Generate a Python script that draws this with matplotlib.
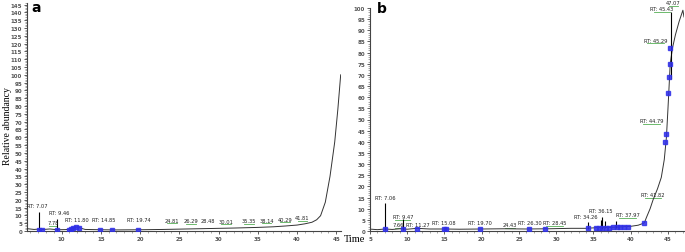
import matplotlib.pyplot as plt
from matplotlib.ticker import MultipleLocator

# ---- panel a: chromatogram trace (time, abundance) ----
trace_a_t = [5.6, 6.5, 7.0, 7.5, 8.5, 9.5, 10.5, 11.0, 11.5, 11.8, 12.2, 13.0, 15.0, 17.0,
             20.0, 23.0, 26.0, 29.0, 32.0, 35.0, 37.0, 38.5, 40.0, 41.0, 41.9, 42.5,
             43.0, 43.6, 44.2, 44.8, 45.2, 45.56]
trace_a_y = [1.5, 1.0, 1.2, 0.9, 1.3, 0.8, 0.9, 1.2, 2.0, 2.6, 2.2, 1.0, 0.8, 0.7,
             0.8, 1.0, 1.3, 1.6, 1.9, 2.3, 2.7, 3.2, 3.8, 4.6, 5.6, 7.2,
             9.8, 18.4, 35.0, 57.0, 78.0, 100.0]
peaks_a_t = [7.07, 9.46]
peaks_a_lo = [0.5, 0.5]
peaks_a_h = [12.0, 8.0]
squares_a_t = [7.07, 7.45, 9.46, 10.9, 11.2, 11.5, 11.8, 12.2, 14.85, 16.4, 19.74]
squares_a_y = [0.8, 0.8, 0.7, 0.8, 1.2, 1.8, 2.3, 2.0, 0.9, 0.8, 0.7]
labels_a = ["RT: 7.07", "7.78", "RT: 9.46", "RT: 11.80", "RT: 14.85", "RT: 19.74",
            "24.81", "26.29", "28.48", "30.01", "35.35", "38.14", "40.29", "41.81"]
labels_a_t = [6.9, 8.9, 9.75, 11.9, 15.4, 19.8, 24.1, 26.5, 28.7, 30.9, 33.9, 36.1, 38.5, 40.7]
labels_a_y = [14.7, 3.6, 10.5, 6.0, 6.0, 6.0, 5.2, 5.0, 5.0, 4.6, 5.0, 5.4, 6.0, 7.0]
green_a = ["7.78", "24.81", "26.29", "30.01", "35.35", "38.14", "40.29", "41.81"]

# ---- panel b ----
trace_b_t = [5.2, 6.0, 7.0, 8.0, 9.0, 10.0, 11.3, 13.0, 15.0, 17.0, 20.0, 23.0, 26.0,
             29.0, 32.0, 34.0, 35.5, 37.0, 38.5, 40.0, 41.0, 41.82, 42.1, 42.6, 43.0,
             43.6, 44.1, 44.5, 44.79, 45.0, 45.15, 45.3, 45.6, 46.0, 46.5, 47.0, 47.15]
trace_b_y = [0.8, 0.6, 0.9, 0.7, 1.0, 0.8, 1.2, 0.9, 0.9, 0.8, 0.9, 1.0, 0.9,
             1.0, 1.2, 1.2, 1.5, 1.6, 1.8, 2.1, 2.6, 3.6, 6.0, 10.0, 14.0,
             19.0, 24.0, 32.0, 42.0, 55.0, 65.0, 75.0, 82.0, 88.0, 94.0, 99.0, 96.0]
peaks_b_t = [7.06, 9.47, 34.26, 36.0, 36.15, 36.6, 37.97, 45.35]
peaks_b_lo = [0.5, 0.5, 0.8, 1.0, 1.0, 1.2, 1.4, 68.0]
peaks_b_h = [12.5, 5.5, 4.0, 5.0, 6.5, 4.5, 4.5, 98.0]
squares_b_t = [7.06, 9.4, 11.27, 14.9, 15.2, 19.7, 26.3, 28.45, 34.26, 35.4, 35.8, 36.2,
               36.7, 37.1, 37.6, 38.1, 38.6, 39.1, 39.6, 41.82, 44.65, 44.79, 45.05,
               45.15, 45.25, 45.33]
squares_b_y = [0.8, 0.7, 1.1, 0.9, 0.9, 0.9, 0.9, 1.0, 1.2, 1.2, 1.4, 1.4,
               1.5, 1.5, 1.6, 1.6, 1.8, 1.8, 2.0, 3.6, 40.0, 43.5, 62.0,
               69.0, 75.0, 82.0]
labels_b = ["RT: 7.06", "7.66", "RT: 9.47", "RT: 11.27", "RT: 15.08", "RT: 19.70",
            "24.43", "RT: 26.30", "RT: 28.45", "RT: 34.26", "RT: 36.15", "RT: 37.97",
            "RT: 41.82", "RT: 44.79", "RT: 45.29", "RT: 45.43", "47.07"]
labels_b_t = [7.1, 8.8, 9.4, 11.4, 14.9, 19.7, 23.8, 26.5, 29.8, 33.9, 36.0, 39.6,
              43.0, 42.8, 43.3, 44.2, 45.7]
labels_b_y = [14.0, 1.6, 5.2, 1.6, 2.5, 2.5, 1.8, 2.5, 2.5, 5.2, 8.0, 6.2,
              15.2, 48.5, 84.5, 98.5, 101.2]
green_b = ["7.66", "RT: 9.47", "24.43", "RT: 28.45", "RT: 37.97", "RT: 41.82",
           "RT: 44.79", "RT: 45.29", "RT: 45.43", "47.07"]

tick_col = "#555555"
line_col = "#333333"
blue = "#3030e8"
green = "#55b055"

fig = plt.figure(figsize=(6.85, 2.53), dpi=100)
ax1 = fig.add_axes([27 / 685, 21 / 253, 314 / 685, 228 / 253])
ax2 = fig.add_axes([370 / 685, 21 / 253, 314 / 685, 223 / 253])


def style(ax, xlim, ylim, xmajor):
    ax.set_xlim(*xlim)
    ax.set_ylim(*ylim)
    for s in ["top", "right"]:
        ax.spines[s].set_visible(False)
    for s in ["left", "bottom"]:
        ax.spines[s].set_linewidth(0.8)
        ax.spines[s].set_color("#444444")
    ax.xaxis.set_major_locator(MultipleLocator(xmajor))
    ax.xaxis.set_minor_locator(MultipleLocator(1))
    ax.yaxis.set_major_locator(MultipleLocator(5))
    ax.yaxis.set_minor_locator(MultipleLocator(1))
    ax.tick_params(which="major", length=2.5, width=0.6, color="#444444",
                   labelsize=4, labelcolor=tick_col, pad=1)
    ax.tick_params(which="minor", length=1.3, width=0.4, color="#666666")
    for lab in ax.get_xticklabels() + ax.get_yticklabels():
        lab.set_fontweight("bold")


def draw(ax, tt, ty, pt, plo, ph, st, sy, labs, lt, ly, greens):
    ax.plot(tt, ty, color=line_col, lw=0.7, zorder=3)
    ax.vlines(pt, plo, ph, color="black", lw=0.8, zorder=3)
    ax.plot(st, sy, "s", ms=2.8, color=blue, mec=blue, alpha=0.85, zorder=4)
    for lab, x, y in zip(labs, lt, ly):
        ax.text(x, y, lab, fontsize=3.7, color="#222222", ha="center", va="bottom",
                zorder=5, clip_on=False)
        if lab in greens:
            w = 0.25 * len(lab)
            ax.plot([x - w / 2, x + w / 2], [y - 0.3, y - 0.3], color=green, lw=0.6,
                    zorder=2, clip_on=False)


style(ax1, (5.6, 45.6), (0, 146), 5)
draw(ax1, trace_a_t, trace_a_y, peaks_a_t, peaks_a_lo, peaks_a_h, squares_a_t, squares_a_y,
     labels_a, labels_a_t, labels_a_y, green_a)
ax1.set_xticks([10, 15, 20, 25, 30, 35, 40, 45])

style(ax2, (5, 47.15), (0, 100), 5)
draw(ax2, trace_b_t, trace_b_y, peaks_b_t, peaks_b_lo, peaks_b_h, squares_b_t, squares_b_y,
     labels_b, labels_b_t, labels_b_y, green_b)

fig.text(8 / 685, 0.5, "Relative abundancy", rotation=90, ha="center", va="center",
         fontsize=7, family="Liberation Serif")
fig.text(344 / 685, 1 - 240 / 253, "Time", ha="left", va="center",
         fontsize=7.5, family="Liberation Serif")
fig.text(31 / 685, 1 - 8 / 253, "a", ha="left", va="center", fontsize=10, fontweight="bold")
fig.text(377 / 685, 1 - 9 / 253, "b", ha="left", va="center", fontsize=10, fontweight="bold")

fig.savefig("out.png", dpi=100)
